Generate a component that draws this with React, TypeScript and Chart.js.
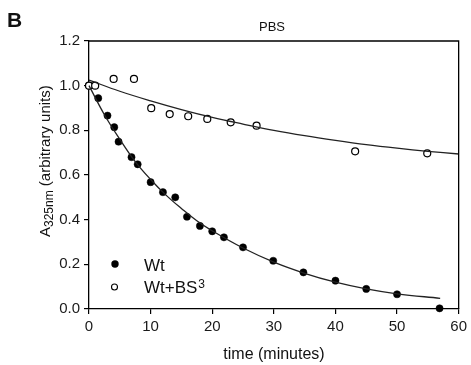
import React, { useEffect, useRef } from 'react';
import { Chart, registerables } from 'chart.js';

Chart.register(...registerables);

// Wt (filled circles)
const wtTime = [0, 1.5, 3, 4.1, 4.8, 6.9, 7.9, 10, 12, 14, 15.9, 18, 20, 21.9, 25, 29.9, 34.8, 40, 45, 50, 56.9];
const wtValue = [1.0, 0.944, 0.866, 0.814, 0.749, 0.68, 0.648, 0.568, 0.523, 0.5, 0.413, 0.372, 0.348, 0.321, 0.276, 0.216, 0.164, 0.127, 0.09, 0.066, 0.003];

// Wt+BS3 (open circles)
const bsTime = [0, 1, 4, 7.3, 10.1, 13.1, 16.1, 19.2, 23, 27.2, 43.2, 54.9];
const bsValue = [1.0, 1.0, 1.03, 1.03, 0.899, 0.873, 0.863, 0.851, 0.836, 0.821, 0.706, 0.697];

// Fitted curves
const wtFitTime = [0, 2.5, 5, 7.5, 10, 12.5, 15, 17.5, 20, 25, 30, 35, 40, 45, 50, 57];
const wtFitValue = [1.0, 0.87, 0.76, 0.66, 0.58, 0.51, 0.45, 0.395, 0.35, 0.273, 0.21, 0.16, 0.12, 0.09, 0.068, 0.048];
const bsFitTime = [0, 5, 10, 15, 20, 25, 30, 35, 40, 45, 50, 55, 60];
const bsFitValue = [1.025, 0.975, 0.932, 0.893, 0.858, 0.828, 0.8, 0.776, 0.755, 0.736, 0.72, 0.706, 0.694];

const xTicks = [0, 10, 20, 30, 40, 50, 60];
const yTicks = [0, 0.2, 0.4, 0.6, 0.8, 1.0, 1.2];

const panelLabel = 'B';
const chartTitle = 'PBS';
const xTitle = 'time (minutes)';
const yTitleMain = 'A';
const yTitleSub = '325nm';
const yTitleRest = ' (arbitrary units)';
const legendWt = 'Wt';
const legendBs = 'Wt+BS';
const legendBsSup = '3';

const FONT = '"Liberation Sans", Arial, sans-serif';

const pts = (xs: number[], ys: number[]) => xs.map((x, i) => ({ x, y: ys[i] }));

const annotations = {
  id: 'annotations',
  afterDraw(chart: any) {
    const ctx = chart.ctx as CanvasRenderingContext2D;
    const a = chart.chartArea;
    ctx.save();
    // frame top/right
    ctx.strokeStyle = '#000';
    ctx.lineWidth = 1.3;
    ctx.beginPath();
    ctx.moveTo(a.left, a.top);
    ctx.lineTo(a.right, a.top);
    ctx.lineTo(a.right, a.bottom);
    ctx.stroke();

    ctx.fillStyle = '#111';
    ctx.textBaseline = 'alphabetic';
    // panel label
    ctx.font = `bold 21px ${FONT}`;
    ctx.textAlign = 'left';
    ctx.fillText(panelLabel, 7, 27);
    // title
    ctx.font = `13px ${FONT}`;
    ctx.textAlign = 'center';
    ctx.fillText(chartTitle, 272, 31);
    // x title
    ctx.font = `16px ${FONT}`;
    ctx.fillText(xTitle, 274, 359);

    // y title rotated
    ctx.save();
    ctx.translate(50, 237);
    ctx.rotate(-Math.PI / 2);
    ctx.textAlign = 'left';
    ctx.font = `15px ${FONT}`;
    ctx.fillText(yTitleMain, 0, 0);
    let w = ctx.measureText(yTitleMain).width;
    ctx.font = `12px ${FONT}`;
    ctx.fillText(yTitleSub, w, 3);
    w += ctx.measureText(yTitleSub).width;
    ctx.font = `15px ${FONT}`;
    ctx.fillText(yTitleRest, w, 0);
    ctx.restore();

    // legend
    ctx.fillStyle = '#000';
    ctx.beginPath();
    ctx.arc(115, 264, 3.7, 0, Math.PI * 2);
    ctx.fill();
    ctx.fillStyle = '#fff';
    ctx.strokeStyle = '#000';
    ctx.lineWidth = 1.1;
    ctx.beginPath();
    ctx.arc(114.5, 287, 3, 0, Math.PI * 2);
    ctx.fill();
    ctx.stroke();

    ctx.fillStyle = '#111';
    ctx.textAlign = 'left';
    ctx.font = `17px ${FONT}`;
    ctx.fillText(legendWt, 144, 270.5);
    ctx.fillText(legendBs, 144, 292.5);
    const bw = ctx.measureText(legendBs).width;
    ctx.font = `12px ${FONT}`;
    ctx.fillText(legendBsSup, 144 + bw + 1, 288);
    ctx.restore();
  },
};

export default function App() {
  const ref = useRef<HTMLCanvasElement | null>(null);
  useEffect(() => {
    if (!ref.current) return;
    const tickFont = { family: FONT, size: 15 };
    const chart = new Chart(ref.current, {
      type: 'scatter',
      data: {
        datasets: [
          {
            label: 'Wt fit',
            data: pts(wtFitTime, wtFitValue),
            showLine: true,
            borderColor: '#222',
            borderWidth: 1.3,
            pointRadius: 0,
            tension: 0.4,
            fill: false,
            order: 1,
            clip: false,
          } as any,
          {
            label: 'Wt+BS3 fit',
            data: pts(bsFitTime, bsFitValue),
            showLine: true,
            borderColor: '#222',
            borderWidth: 1.3,
            pointRadius: 0,
            tension: 0.4,
            fill: false,
            order: 2,
            clip: false,
          } as any,
          {
            label: 'Wt+BS3',
            data: pts(bsTime, bsValue),
            pointRadius: 3.5,
            pointBackgroundColor: '#fff',
            pointBorderColor: '#000',
            pointBorderWidth: 1.2,
            order: 3,
            clip: false,
          } as any,
          {
            label: 'Wt',
            data: pts(wtTime, wtValue),
            pointRadius: 3.6,
            pointBackgroundColor: '#000',
            pointBorderColor: '#000',
            pointBorderWidth: 0.5,
            order: 4,
            clip: false,
          } as any,
        ],
      },
      options: {
        responsive: false,
        animation: false,
        layout: { padding: { left: 0, right: 11, top: 41, bottom: 0 } },
        plugins: {
          legend: { display: false },
          tooltip: { enabled: false },
          title: { display: false },
        },
        scales: {
          x: {
            type: 'linear',
            min: 0,
            max: 60,
            afterBuildTicks: (s: any) => {
              s.ticks = xTicks.map((v) => ({ value: v }));
            },
            ticks: { font: tickFont, color: '#1a1a1a', padding: 4, maxRotation: 0 },
            grid: { drawOnChartArea: false, drawTicks: true, tickLength: 5, color: '#000', lineWidth: 1.2 },
            border: { display: true, color: '#000', width: 1.3 },
            afterFit: (s: any) => {
              s.height = 56;
            },
          },
          y: {
            type: 'linear',
            min: 0,
            max: 1.2,
            afterBuildTicks: (s: any) => {
              s.ticks = yTicks.map((v) => ({ value: v }));
            },
            ticks: {
              font: tickFont,
              color: '#1a1a1a',
              padding: 4,
              callback: (v: any) => Number(v).toFixed(1),
            },
            grid: { drawOnChartArea: false, drawTicks: true, tickLength: 5, color: '#000', lineWidth: 1.2 },
            border: { display: true, color: '#000', width: 1.3 },
            afterFit: (s: any) => {
              s.width = 89;
            },
          },
        },
      } as any,
      plugins: [annotations],
    });
    return () => chart.destroy();
  }, []);
  return (
    <div style={{ position: 'fixed', left: 0, top: 0, width: 471, height: 365, background: '#fff' }}>
      <canvas ref={ref} width={471} height={365} style={{ display: 'block', width: 471, height: 365 }} />
    </div>
  );
}
